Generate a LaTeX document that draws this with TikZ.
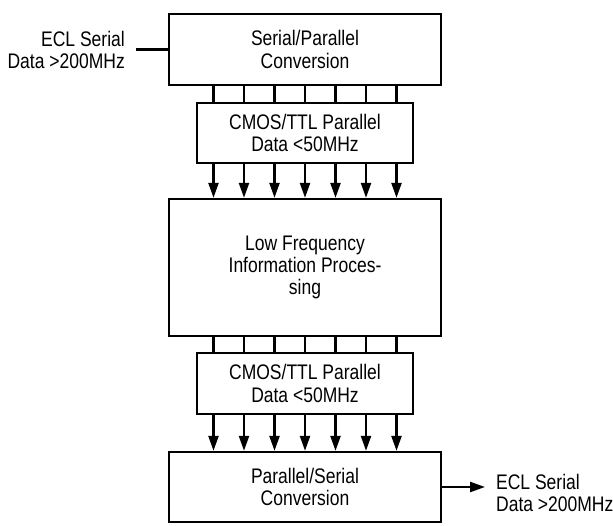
\documentclass[tikz,border=0pt]{standalone}
\usepackage{fontspec}
\setmainfont{Liberation Sans}[FakeStretch=0.83]
\usetikzlibrary{arrows.meta}

\begin{document}
\begin{tikzpicture}[
        x=0.03cm, y=-0.03cm, % one unit = one pixel of the sketch
        line width=2pt,
        font=\fontsize{18}{19}\selectfont,
        wide/.style={draw, align=center, minimum width=8.16cm, inner sep=0pt}, % big blocks
        narrow/.style={draw, align=center, minimum width=6.48cm, minimum height=1.8cm, inner sep=0pt}, % bus blocks
        bus/.style={-{Triangle[length=0.45cm, width=0.3cm]}},
        label/.style={align=right, inner sep=0.3cm},
    ]
    \useasboundingbox (0,0) rectangle (613,525);

    \node[wide, minimum height=2.13cm] (sp) at (305,49.5) {Serial/Parallel\\Conversion};
    \node[narrow] (cmos1) at (305,133) {CMOS/TTL Parallel\\Data <50MHz};
    \node[wide, minimum height=4.11cm] (lfp) at (305,267.5) {Low Frequency\\Information Proces-\\sing};
    \node[narrow, minimum height=1.83cm] (cmos2) at (305,383.5) {CMOS/TTL Parallel\\Data <50MHz};
    \node[wide, minimum height=2.1cm] (ps) at (305,487) {Parallel/Serial\\Conversion};

    \node[label, anchor=east] (in) at (136,50) {ECL Serial\\Data >200MHz};
    \node[label, align=left, anchor=west] (out) at (485,493) {ECL Serial\\Data >200MHz};

    % parallel lines
    \foreach \i in {0,...,6} {
        \draw ([xshift=(\i-3)*0.915cm]sp.south) -- ([xshift=(\i-3)*0.915cm]cmos1.north);
        \draw[bus] ([xshift=(\i-3)*0.915cm]cmos1.south) -- ([xshift=(\i-3)*0.915cm]lfp.north);
        \draw ([xshift=(\i-3)*0.915cm]lfp.south) -- ([xshift=(\i-3)*0.915cm]cmos2.north);
        \draw[bus] ([xshift=(\i-3)*0.915cm]cmos2.south) -- ([xshift=(\i-3)*0.915cm]ps.north);
    }

    \draw (in.east |- sp.west) -- (sp.west);
    \draw[bus] (ps.east) -- (ps.east -| out.west);
\end{tikzpicture}
\end{document}
